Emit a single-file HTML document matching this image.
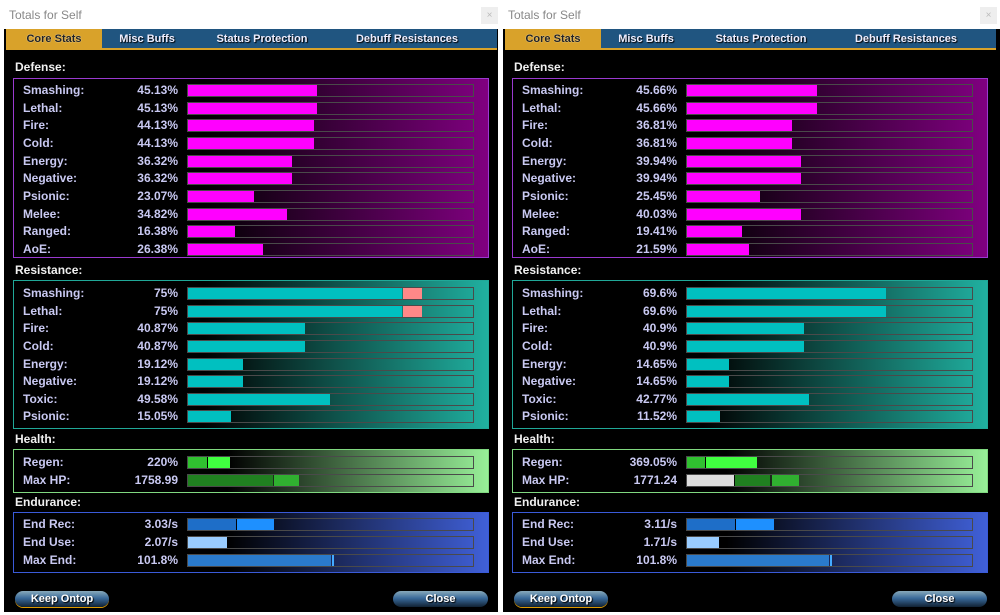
<!DOCTYPE html>
<html><head><meta charset="utf-8"><style>
*{margin:0;padding:0;box-sizing:border-box}
body{width:1000px;height:615px;background:#fff;position:relative;overflow:hidden;font-family:"Liberation Sans",sans-serif;font-weight:bold;font-size:12px}
.w{position:absolute;top:0;height:615px;width:499px;background:#fff}
.tt{position:absolute;left:9px;top:8px;font-weight:normal;color:#888;font-size:12px}
.x{position:absolute;left:481px;top:7px;width:17px;height:17px;background:#eee;color:#bbb;font-size:10px;text-align:center;line-height:17px;font-weight:normal}
.c{position:absolute;left:4px;top:29px;width:494px;height:583px;background:#000}
.tabs{position:absolute;left:2px;top:0;width:491px;height:21px;background:#205580;border-bottom:2px solid #d9a22a}
.tab{position:absolute;top:0;height:21px;line-height:21px;text-align:center;color:#eef;font-size:11px;text-shadow:1px 1px 1px #000}
.tab.a{background:#d9a22a;color:#222;text-shadow:0 0 1px #fff}
.h{position:absolute;left:11px;color:#f0f0f0;font-size:12px}
.b{position:absolute;left:9px;width:476px;border:1px solid}
.r{position:absolute;left:0;height:16px;width:480px;line-height:16px}
.l{position:absolute;left:9px;color:#c9c9f2}
.v{position:absolute;right:316px;color:#c9c9f2}
.t{position:absolute;left:173px;top:2px;width:287px;height:13px;border:1px solid #4a4a4a}
.f{position:absolute;top:0;height:11px}
.btn{position:absolute;top:562px;height:16px;border-radius:8px;background:linear-gradient(#8ab 0%,#3a6a9a 45%,#123 100%);color:#fff;font-size:11px;text-align:center;line-height:16px;text-shadow:1px 1px 1px #000}
</style></head><body>

<div class="w" style="left:0">
<div class="tt">Totals for Self</div><div class="x">×</div>
<div class="c">
<div class="tabs"><div class="tab a" style="left:0;width:96px">Core Stats</div><div class="tab" style="left:96px;width:90px">Misc Buffs</div><div class="tab" style="left:186px;width:140px">Status Protection</div><div class="tab" style="left:326px;width:150px">Debuff Resistances</div></div>
<div class="h" style="top:31px">Defense:</div>
<div class="b" style="top:49px;height:180px;border-color:#9a3ad0;background:linear-gradient(to right,#000 40%,#800080 100%)">
<div class="r" style="top:3px"><span class="l">Smashing:</span><span class="v">45.13%</span><div class="t"><div class="f" style="left:0;width:129px;background:#f0f"></div></div></div>
<div class="r" style="top:21px"><span class="l">Lethal:</span><span class="v">45.13%</span><div class="t"><div class="f" style="left:0;width:129px;background:#f0f"></div></div></div>
<div class="r" style="top:38px"><span class="l">Fire:</span><span class="v">44.13%</span><div class="t"><div class="f" style="left:0;width:126px;background:#f0f"></div></div></div>
<div class="r" style="top:56px"><span class="l">Cold:</span><span class="v">44.13%</span><div class="t"><div class="f" style="left:0;width:126px;background:#f0f"></div></div></div>
<div class="r" style="top:74px"><span class="l">Energy:</span><span class="v">36.32%</span><div class="t"><div class="f" style="left:0;width:104px;background:#f0f"></div></div></div>
<div class="r" style="top:91px"><span class="l">Negative:</span><span class="v">36.32%</span><div class="t"><div class="f" style="left:0;width:104px;background:#f0f"></div></div></div>
<div class="r" style="top:109px"><span class="l">Psionic:</span><span class="v">23.07%</span><div class="t"><div class="f" style="left:0;width:66px;background:#f0f"></div></div></div>
<div class="r" style="top:127px"><span class="l">Melee:</span><span class="v">34.82%</span><div class="t"><div class="f" style="left:0;width:99px;background:#f0f"></div></div></div>
<div class="r" style="top:144px"><span class="l">Ranged:</span><span class="v">16.38%</span><div class="t"><div class="f" style="left:0;width:47px;background:#f0f"></div></div></div>
<div class="r" style="top:162px"><span class="l">AoE:</span><span class="v">26.38%</span><div class="t"><div class="f" style="left:0;width:75px;background:#f0f"></div></div></div>
</div>
<div class="h" style="top:234px">Resistance:</div>
<div class="b" style="top:251px;height:149px;border-color:#20a898;background:linear-gradient(to right,#000 40%,#20b0a0 100%)">
<div class="r" style="top:4px"><span class="l">Smashing:</span><span class="v">75%</span><div class="t"><div class="f" style="left:0;width:214px;background:#00c0c0"></div><div class="f" style="left:215px;width:19px;background:#f88"></div></div></div>
<div class="r" style="top:22px"><span class="l">Lethal:</span><span class="v">75%</span><div class="t"><div class="f" style="left:0;width:214px;background:#00c0c0"></div><div class="f" style="left:215px;width:19px;background:#f88"></div></div></div>
<div class="r" style="top:39px"><span class="l">Fire:</span><span class="v">40.87%</span><div class="t"><div class="f" style="left:0;width:117px;background:#00c0c0"></div></div></div>
<div class="r" style="top:57px"><span class="l">Cold:</span><span class="v">40.87%</span><div class="t"><div class="f" style="left:0;width:117px;background:#00c0c0"></div></div></div>
<div class="r" style="top:75px"><span class="l">Energy:</span><span class="v">19.12%</span><div class="t"><div class="f" style="left:0;width:55px;background:#00c0c0"></div></div></div>
<div class="r" style="top:92px"><span class="l">Negative:</span><span class="v">19.12%</span><div class="t"><div class="f" style="left:0;width:55px;background:#00c0c0"></div></div></div>
<div class="r" style="top:110px"><span class="l">Toxic:</span><span class="v">49.58%</span><div class="t"><div class="f" style="left:0;width:142px;background:#00c0c0"></div></div></div>
<div class="r" style="top:127px"><span class="l">Psionic:</span><span class="v">15.05%</span><div class="t"><div class="f" style="left:0;width:43px;background:#00c0c0"></div></div></div>
</div>
<div class="h" style="top:403px">Health:</div>
<div class="b" style="top:420px;height:44px;border-color:#80d880;background:linear-gradient(to right,#000 45%,#98f098 100%)">
<div class="r" style="top:4px"><span class="l">Regen:</span><span class="v">220%</span><div class="t"><div class="f" style="left:0;width:19px;background:#30c030"></div><div class="f" style="left:20px;width:22px;background:#40ff40"></div></div></div>
<div class="r" style="top:22px"><span class="l">Max HP:</span><span class="v">1758.99</span><div class="t"><div class="f" style="left:0;width:85px;background:#208020"></div><div class="f" style="left:86px;width:25px;background:#30b030"></div></div></div>
</div>
<div class="h" style="top:466px">Endurance:</div>
<div class="b" style="top:483px;height:61px;border-color:#3a5ad8;background:linear-gradient(to right,#000 45%,#4060d8 100%)">
<div class="r" style="top:3px"><span class="l">End Rec:</span><span class="v">3.03/s</span><div class="t"><div class="f" style="left:0;width:48px;background:#1e6ec8"></div><div class="f" style="left:49px;width:37px;background:#1e90ff"></div></div></div>
<div class="r" style="top:21px"><span class="l">End Use:</span><span class="v">2.07/s</span><div class="t"><div class="f" style="left:0;width:39px;background:#99ccff"></div></div></div>
<div class="r" style="top:39px"><span class="l">Max End:</span><span class="v">101.8%</span><div class="t"><div class="f" style="left:0;width:143px;background:#2a7acc"></div><div class="f" style="left:144px;width:2px;background:#4af"></div></div></div>
</div>
<div class="btn" style="left:11px;width:94px;box-shadow:0 1px 0 #d90">Keep Ontop</div>
<div class="btn" style="left:389px;width:95px">Close</div>
</div>
</div>

<div class="w" style="left:499px;width:501px">
<div class="tt">Totals for Self</div><div class="x">×</div>
<div class="c" style="width:497px">
<div class="tabs"><div class="tab a" style="left:0;width:96px">Core Stats</div><div class="tab" style="left:96px;width:90px">Misc Buffs</div><div class="tab" style="left:186px;width:140px">Status Protection</div><div class="tab" style="left:326px;width:150px">Debuff Resistances</div></div>
<div class="h" style="top:31px">Defense:</div>
<div class="b" style="top:49px;height:180px;border-color:#9a3ad0;background:linear-gradient(to right,#000 40%,#800080 100%)">
<div class="r" style="top:3px"><span class="l">Smashing:</span><span class="v">45.66%</span><div class="t"><div class="f" style="left:0;width:130px;background:#f0f"></div></div></div>
<div class="r" style="top:21px"><span class="l">Lethal:</span><span class="v">45.66%</span><div class="t"><div class="f" style="left:0;width:130px;background:#f0f"></div></div></div>
<div class="r" style="top:38px"><span class="l">Fire:</span><span class="v">36.81%</span><div class="t"><div class="f" style="left:0;width:105px;background:#f0f"></div></div></div>
<div class="r" style="top:56px"><span class="l">Cold:</span><span class="v">36.81%</span><div class="t"><div class="f" style="left:0;width:105px;background:#f0f"></div></div></div>
<div class="r" style="top:74px"><span class="l">Energy:</span><span class="v">39.94%</span><div class="t"><div class="f" style="left:0;width:114px;background:#f0f"></div></div></div>
<div class="r" style="top:91px"><span class="l">Negative:</span><span class="v">39.94%</span><div class="t"><div class="f" style="left:0;width:114px;background:#f0f"></div></div></div>
<div class="r" style="top:109px"><span class="l">Psionic:</span><span class="v">25.45%</span><div class="t"><div class="f" style="left:0;width:73px;background:#f0f"></div></div></div>
<div class="r" style="top:127px"><span class="l">Melee:</span><span class="v">40.03%</span><div class="t"><div class="f" style="left:0;width:114px;background:#f0f"></div></div></div>
<div class="r" style="top:144px"><span class="l">Ranged:</span><span class="v">19.41%</span><div class="t"><div class="f" style="left:0;width:55px;background:#f0f"></div></div></div>
<div class="r" style="top:162px"><span class="l">AoE:</span><span class="v">21.59%</span><div class="t"><div class="f" style="left:0;width:62px;background:#f0f"></div></div></div>
</div>
<div class="h" style="top:234px">Resistance:</div>
<div class="b" style="top:251px;height:149px;border-color:#20a898;background:linear-gradient(to right,#000 40%,#20b0a0 100%)">
<div class="r" style="top:4px"><span class="l">Smashing:</span><span class="v">69.6%</span><div class="t"><div class="f" style="left:0;width:199px;background:#00c0c0"></div></div></div>
<div class="r" style="top:22px"><span class="l">Lethal:</span><span class="v">69.6%</span><div class="t"><div class="f" style="left:0;width:199px;background:#00c0c0"></div></div></div>
<div class="r" style="top:39px"><span class="l">Fire:</span><span class="v">40.9%</span><div class="t"><div class="f" style="left:0;width:117px;background:#00c0c0"></div></div></div>
<div class="r" style="top:57px"><span class="l">Cold:</span><span class="v">40.9%</span><div class="t"><div class="f" style="left:0;width:117px;background:#00c0c0"></div></div></div>
<div class="r" style="top:75px"><span class="l">Energy:</span><span class="v">14.65%</span><div class="t"><div class="f" style="left:0;width:42px;background:#00c0c0"></div></div></div>
<div class="r" style="top:92px"><span class="l">Negative:</span><span class="v">14.65%</span><div class="t"><div class="f" style="left:0;width:42px;background:#00c0c0"></div></div></div>
<div class="r" style="top:110px"><span class="l">Toxic:</span><span class="v">42.77%</span><div class="t"><div class="f" style="left:0;width:122px;background:#00c0c0"></div></div></div>
<div class="r" style="top:127px"><span class="l">Psionic:</span><span class="v">11.52%</span><div class="t"><div class="f" style="left:0;width:33px;background:#00c0c0"></div></div></div>
</div>
<div class="h" style="top:403px">Health:</div>
<div class="b" style="top:420px;height:44px;border-color:#80d880;background:linear-gradient(to right,#000 45%,#98f098 100%)">
<div class="r" style="top:4px"><span class="l">Regen:</span><span class="v">369.05%</span><div class="t"><div class="f" style="left:0;width:18px;background:#30c030"></div><div class="f" style="left:19px;width:51px;background:#40ff40"></div></div></div>
<div class="r" style="top:22px"><span class="l">Max HP:</span><span class="v">1771.24</span><div class="t"><div class="f" style="left:0;width:47px;background:#ddd"></div><div class="f" style="left:48px;width:35px;background:#208020"></div><div class="f" style="left:85px;width:27px;background:#30b030"></div></div></div>
</div>
<div class="h" style="top:466px">Endurance:</div>
<div class="b" style="top:483px;height:61px;border-color:#3a5ad8;background:linear-gradient(to right,#000 45%,#4060d8 100%)">
<div class="r" style="top:3px"><span class="l">End Rec:</span><span class="v">3.11/s</span><div class="t"><div class="f" style="left:0;width:48px;background:#1e6ec8"></div><div class="f" style="left:49px;width:38px;background:#1e90ff"></div></div></div>
<div class="r" style="top:21px"><span class="l">End Use:</span><span class="v">1.71/s</span><div class="t"><div class="f" style="left:0;width:32px;background:#99ccff"></div></div></div>
<div class="r" style="top:39px"><span class="l">Max End:</span><span class="v">101.8%</span><div class="t"><div class="f" style="left:0;width:142px;background:#2a7acc"></div><div class="f" style="left:143px;width:2px;background:#4af"></div></div></div>
</div>
<div class="btn" style="left:11px;width:94px;box-shadow:0 1px 0 #d90">Keep Ontop</div>
<div class="btn" style="left:389px;width:95px">Close</div>
</div>
</div>
</body></html>
